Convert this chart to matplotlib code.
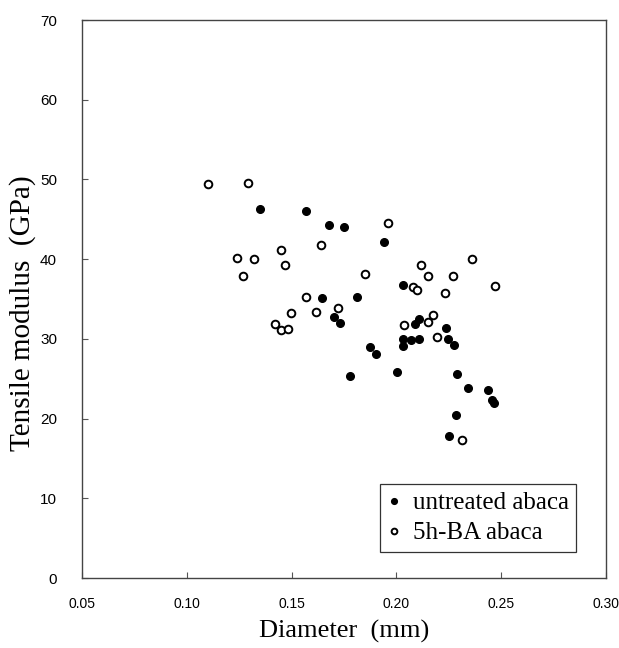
import matplotlib
matplotlib.use("Agg")
from matplotlib import pyplot as plt

# untreated abaca (filled circles)
untreated_d = [0.135, 0.157, 0.168, 0.175, 0.194, 0.1645, 0.181, 0.170, 0.173,
               0.1875, 0.1905, 0.178, 0.2005, 0.203, 0.211, 0.209, 0.2235, 0.203,
               0.207, 0.211, 0.203, 0.2245, 0.2275, 0.229, 0.234, 0.2435, 0.2455,
               0.2465, 0.2285, 0.225]
untreated_e = [46.3, 46.0, 44.3, 44.0, 42.1, 35.1, 35.2, 32.7, 32.0,
               29.0, 28.1, 25.3, 25.8, 36.8, 32.5, 31.9, 31.4, 30.0,
               29.9, 30.0, 29.1, 30.0, 29.2, 25.6, 23.9, 23.6, 22.3,
               22.0, 20.4, 17.8]

# 5h-BA abaca (open circles)
ba_d = [0.110, 0.129, 0.196, 0.145, 0.164, 0.124, 0.132, 0.147, 0.127, 0.185,
        0.157, 0.172, 0.1615, 0.1495, 0.142, 0.145, 0.1485, 0.236, 0.2115, 0.215,
        0.227, 0.208, 0.210, 0.223, 0.247, 0.2175, 0.215, 0.2035, 0.2195, 0.2315]
ba_e = [49.4, 49.5, 44.6, 41.2, 41.8, 40.2, 40.0, 39.3, 37.9, 38.1,
        35.3, 33.9, 33.4, 33.2, 31.9, 31.1, 31.3, 40.0, 39.3, 37.9,
        37.9, 36.5, 36.1, 35.8, 36.6, 33.0, 32.1, 31.7, 30.2, 17.3]

xticks = [0.05, 0.10, 0.15, 0.20, 0.25, 0.30]
yticks = [0, 10, 20, 30, 40, 50, 60, 70]

fig = plt.figure(figsize=(6.19, 6.48), dpi=100)
ax = fig.add_axes([0.1325, 0.108, 0.8465, 0.861])

ax.plot(untreated_d, untreated_e, "o", color="black", markersize=5.5,
        label="untreated abaca")
ax.plot(ba_d, ba_e, "o", markerfacecolor="white", markeredgecolor="black",
        markeredgewidth=1.4, markersize=5.5, label="5h-BA abaca")

ax.set_xlim(0.05, 0.30)
ax.set_ylim(0, 70)
ax.set_xticks(xticks)
ax.set_xticklabels(["%.2f" % t for t in xticks], family="Liberation Sans", fontsize=10)
ax.set_yticks(yticks)
ax.set_yticklabels([str(t) for t in yticks], family="Liberation Sans", fontsize=11)
ax.tick_params(direction="in", length=4, width=0.8, color="#555555")
ax.tick_params(axis="x", pad=14)
ax.tick_params(axis="y", pad=18)
for s in ax.spines.values():
    s.set_color("#444444")
    s.set_linewidth(1.0)

ax.set_xlabel("Diameter  (mm)", family="Liberation Serif", fontsize=19, labelpad=6)
ax.set_ylabel("Tensile modulus  (GPa)", family="Liberation Serif", fontsize=21)
ax.yaxis.set_label_coords(-0.088, 0.474)

leg = ax.legend(loc="lower left", bbox_to_anchor=(0.569, 0.047),
                prop={"family": "Liberation Serif", "size": 18},
                fancybox=False, edgecolor="#333333", framealpha=1,
                markerscale=0.75, handlelength=0.5, handletextpad=0.5,
                borderpad=0.3, labelspacing=0.3, borderaxespad=0)
leg.get_frame().set_linewidth(0.9)

fig.savefig("out.png", dpi=100)
